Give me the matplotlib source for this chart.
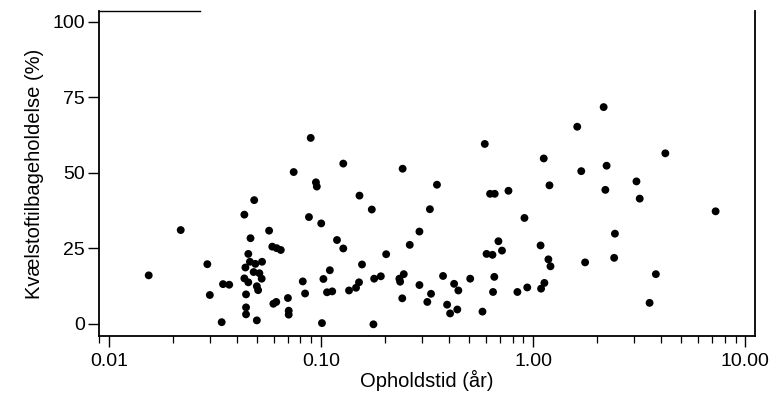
import matplotlib
matplotlib.use("Agg")
import matplotlib.pyplot as plt
from matplotlib.ticker import FixedLocator, LogLocator, NullFormatter, FixedFormatter

plt.rcParams['font.family'] = ['Liberation Sans', 'DejaVu Sans']

# Residence time (years) and nitrogen retention (%)
residence_time = [
    0.0218, 0.0154, 0.0291, 0.0299, 0.0345, 0.0369, 0.0340,
    0.0894, 0.0743, 0.0946, 0.0955, 0.0484, 0.0435, 0.0877, 0.1002, 0.0569,
    0.0465, 0.0589, 0.0618, 0.0646, 0.0454, 0.0440, 0.0462, 0.0490, 0.0527,
    0.0481, 0.0512, 0.0525, 0.0435, 0.0454, 0.0498, 0.0505, 0.0443,
    0.0820, 0.0841, 0.1026, 0.1067, 0.1100, 0.0596, 0.0615, 0.0698,
    0.0704, 0.0704, 0.0443, 0.0443, 0.0498, 0.1010,
    0.1273, 0.2425, 0.1518, 0.1735, 0.1189, 0.1273, 0.2028, 0.2620, 0.2910,
    0.1560, 0.1129, 0.1355, 0.1462, 0.1510, 0.1780, 0.1914, 0.2340, 0.2360,
    0.2455, 0.2415, 0.2910, 0.1766,
    0.5916, 0.3520, 0.6266, 0.6590, 0.7650, 0.3260, 0.9100, 0.6860, 0.7130,
    0.6030, 0.6430, 0.3760, 0.5050, 0.6560, 0.4240, 0.4440, 0.3300, 0.3170,
    0.6470, 0.8430, 0.9380, 0.3930, 0.4060, 0.4390, 0.5770,
    2.15, 1.614, 1.122, 1.686, 2.22, 1.194, 2.19, 3.07, 3.18, 1.084, 2.43,
    1.18, 1.207, 1.758, 2.41, 1.13, 1.09,
    4.20, 7.25, 3.79, 3.54,
]
n_retention = [
    31.1, 16.1, 19.8, 9.6, 13.2, 13.0, 0.6,
    61.6, 50.3, 46.9, 45.5, 41.0, 36.2, 35.4, 33.3, 30.9,
    28.4, 25.6, 25.1, 24.5, 23.2, 18.7, 20.6, 19.9, 20.6,
    17.2, 16.8, 15.0, 15.1, 13.8, 12.5, 11.2, 9.8,
    14.1, 10.1, 14.9, 10.5, 17.8, 6.7, 7.3, 8.6,
    4.4, 3.1, 5.5, 3.2, 1.2, 0.3,
    53.1, 51.4, 42.5, 37.9, 27.8, 25.0, 23.1, 26.2, 30.6,
    19.7, 10.8, 11.1, 12.0, 13.8, 15.0, 15.8, 15.0, 14.0,
    16.5, 8.5, 12.9, -0.1,
    59.6, 46.1, 43.1, 43.1, 44.1, 38.0, 35.1, 27.4, 24.3,
    23.2, 22.9, 15.9, 15.0, 15.6, 13.3, 11.1, 10.0, 7.3,
    10.6, 10.6, 12.1, 6.4, 3.5, 4.8, 4.1,
    71.8, 65.3, 54.8, 50.6, 52.4, 45.9, 44.4, 47.2, 41.5, 26.0, 29.9,
    21.4, 19.1, 20.4, 21.9, 13.6, 11.7,
    56.5, 37.3, 16.5, 7.0,
]

x_ticks = [0.01, 0.1, 1.0, 10.0]
x_tick_labels = ["0.01", "0.10", "1.00", "10.00"]
y_ticks = [0, 25, 50, 75, 100]
y_tick_labels = ["0", "25", "50", "75", "100"]

fig = plt.figure(figsize=(7.79, 3.94), dpi=100)
ax = fig.add_axes([0.127, 0.147, 0.842, 0.825])

ax.scatter(residence_time, n_retention, s=32, color='black', edgecolors='none', zorder=3)

ax.set_xscale('log')
ax.set_xlim(0.00897, 11.1)
ax.set_ylim(-4, 103.6)

ax.xaxis.set_major_locator(FixedLocator(x_ticks))
ax.xaxis.set_major_formatter(FixedFormatter(x_tick_labels))
ax.xaxis.set_minor_locator(LogLocator(base=10, subs=range(2, 10)))
ax.xaxis.set_minor_formatter(NullFormatter())
ax.yaxis.set_major_locator(FixedLocator(y_ticks))
ax.yaxis.set_major_formatter(FixedFormatter(y_tick_labels))

ax.tick_params(axis='x', which='major', direction='out', length=8, width=1.0,
               labelsize=14, pad=4, colors='black')
ax.tick_params(axis='x', which='minor', direction='out', length=5, width=0.9)
ax.tick_params(axis='y', which='major', direction='out', length=8, width=1.0,
               labelsize=14, pad=2)

for side in ['left', 'bottom', 'right']:
    ax.spines[side].set_linewidth(1.3)
ax.spines['top'].set_visible(False)
ax.plot([0, 0.154], [1, 1], transform=ax.transAxes, color='black', lw=1.0,
        clip_on=False)

ax.set_xlabel("Opholdstid (år)", fontsize=14.5, labelpad=0)
ax.set_ylabel("Kvælstoftilbageholdelse (%)", fontsize=14.5, labelpad=6)

fig.savefig("out.png", dpi=100)
